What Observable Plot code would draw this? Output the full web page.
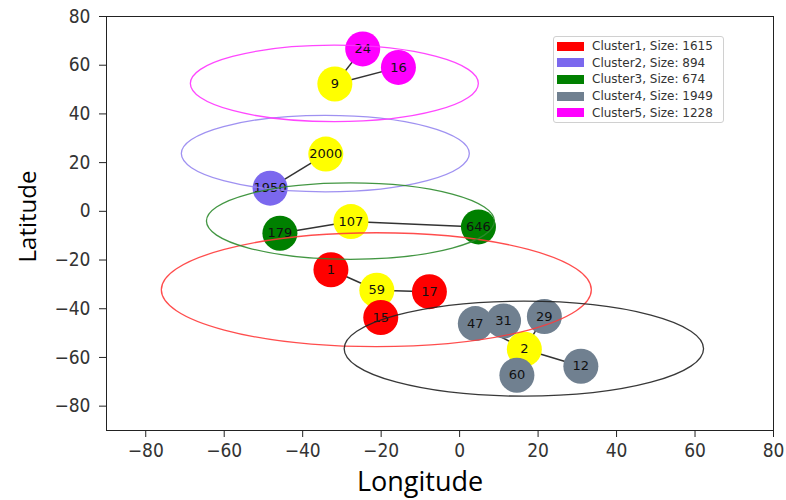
<!DOCTYPE html>
<html>
<head>
<meta charset="utf-8">
<script src="https://cdn.jsdelivr.net/npm/d3@7"></script>
<script src="https://cdn.jsdelivr.net/npm/@observablehq/plot@0.6"></script>
<style>
  html, body { margin: 0; padding: 0; background: #fff; }
  #wrap { position: relative; width: 786px; height: 500px; }
  #legend { position: absolute; left: 553px; top: 36px; width: 171px; height: 87px;
    border: 1px solid #d0d0d0; border-radius: 3px; background: rgba(255,255,255,0.85);
    font-family: "DejaVu Sans", sans-serif; font-size: 12px; color: #333; box-sizing: border-box; }
  .row { position: absolute; left: 3px; height: 14px; display: flex; align-items: center; }
  .sw { width: 27px; height: 9px; margin-right: 8px; }
</style>
</head>
<body>
<div id="wrap"><div id="legend"></div></div>
<script>
// ---- data ----
const nodeIds     = ["9", "2000", "107", "59", "2", "24", "16", "1950", "179", "646", "1", "17", "15", "47", "31", "29", "12", "60"];
const nodeLon     = [-31.8, -34.1, -27.7, -21.1, 16.5, -24.7, -15.6, -48.3, -45.8, 4.8, -32.8, -7.7, -20.1, 4.0, 11.2, 21.6, 30.9, 14.6];
const nodeLat     = [52.3, 23.5, -4.2, -32.4, -56.6, 66.7, 59.1, 9.5, -9.0, -6.4, -24.0, -33.0, -43.6, -46.1, -45.0, -43.2, -63.6, -67.3];
const nodeCluster = ["Cluster5", "Cluster2", "Cluster3", "Cluster1", "Cluster4", "Cluster5", "Cluster5", "Cluster2", "Cluster3", "Cluster3", "Cluster1", "Cluster1", "Cluster1", "Cluster4", "Cluster4", "Cluster4", "Cluster4", "Cluster4"];
const nodeIsHub   = [true, true, true, true, true, false, false, false, false, false, false, false, false, false, false, false, false, false];

const edgeFrom = ["24", "9", "2000", "179", "107", "1", "59", "2", "2", "2", "2", "59"];
const edgeTo   = ["9", "16", "1950", "107", "646", "59", "17", "47", "29", "12", "60", "15"];

const clusterNames = ["Cluster1", "Cluster2", "Cluster3", "Cluster4", "Cluster5"];
const clusterSizes = [1615, 894, 674, 1949, 1228];
const clusterHub   = ["59", "2000", "107", "2", "9"];
const clusterRadLon = [54.8, 36.7, 36.7, 45.8, 36.7];
const clusterRadLat = [23.4, 15.7, 15.7, 19.5, 15.7];

const xTicks = [-80, -60, -40, -20, 0, 20, 40, 60, 80];
const yTicks = [-80, -60, -40, -20, 0, 20, 40, 60, 80];

// ---- styles ----
const nodeColors    = ["#ff0000", "#7b68ee", "#008000", "#708090", "#ff00ff"];
const ellipseColors = ["#ff3a3a", "#9585f0", "#2e8b2e", "#222222", "#ff33ff"];
const hubColor = "#ffff00";
const tickFont = "'DejaVu Sans Condensed', 'Liberation Sans Narrow', 'DejaVu Sans', sans-serif";

// ---- tables ----
const nodes = nodeIds.map((id, i) => ({id, lon: nodeLon[i], lat: nodeLat[i], cluster: nodeCluster[i], hub: nodeIsHub[i]}));
const byId = new Map(nodes.map(d => [d.id, d]));
const edges = edgeFrom.map((f, i) => ({a: byId.get(f), b: byId.get(edgeTo[i])}));
const clusters = clusterNames.map((name, i) => {
  const h = byId.get(clusterHub[i]);
  return {name, size: clusterSizes[i], lon: h.lon, lat: h.lat, rlon: clusterRadLon[i], rlat: clusterRadLat[i], color: ellipseColors[i]};
});
const colorOf = new Map(clusterNames.map((n, i) => [n, nodeColors[i]]));
const fmt = d => d < 0 ? "\u2212" + Math.abs(d) : String(d);

const plot = Plot.plot({
  width: 786,
  height: 500,
  marginLeft: 106,
  marginRight: 13,
  marginTop: 16,
  marginBottom: 70,
  x: {domain: [-90, 80]},
  y: {domain: [-90, 80]},
  style: {fontFamily: tickFont, fontSize: "19px", color: "#333", background: "transparent"},
  marks: [
    Plot.link(edges, {x1: d => d.a.lon, y1: d => d.a.lat, x2: d => d.b.lon, y2: d => d.b.lat, stroke: "#333", strokeWidth: 1.5}),
    Plot.dot(nodes, {x: "lon", y: "lat", r: 17.5, fill: d => d.hub ? hubColor : colorOf.get(d.cluster), stroke: "none"}),
    Plot.text(nodes, {x: "lon", y: "lat", text: "id", fontSize: 13, fill: "#111", fontFamily: "DejaVu Sans, sans-serif"}),
    Plot.dot(clusters, {
      x: "lon", y: "lat",
      render: (index, scales, values, dims, ctx) => {
        const g = d3.create("svg:g").attr("fill", "none");
        for (const i of index) {
          const c = clusters[i];
          const cx = scales.x(c.lon), cy = scales.y(c.lat);
          const rx = Math.abs(scales.x(c.lon + c.rlon) - cx);
          const ry = Math.abs(scales.y(c.lat + c.rlat) - cy);
          g.append("ellipse").attr("cx", cx).attr("cy", cy).attr("rx", rx).attr("ry", ry)
            .attr("stroke", c.color).attr("stroke-width", 1.3).attr("stroke-opacity", 0.9);
        }
        return g.node();
      }
    }),
    Plot.frame({stroke: "#222", strokeWidth: 1}),
    Plot.axisX({ticks: xTicks, tickFormat: fmt, tickSize: 7, tickPadding: 6, label: null, stroke: "#222"}),
    Plot.axisY({ticks: yTicks, tickFormat: fmt, tickSize: 7, tickPadding: 9, label: null, stroke: "#222"}),
    Plot.text(["Longitude"], {frameAnchor: "bottom", dx: -20, dy: 60, fontSize: 27, fontFamily: "Open Sans, sans-serif", fill: "#000"}),
    Plot.text(["Latitude"], {frameAnchor: "left", textAnchor: "middle", dx: -78, dy: -7, rotate: -90, fontSize: 24, fontFamily: "Open Sans, sans-serif", fill: "#000"})
  ]
});
document.getElementById("wrap").prepend(plot);

const legend = document.getElementById("legend");
clusters.forEach((c, i) => {
  const row = document.createElement("div");
  row.className = "row";
  row.style.top = (2 + i * 16.7) + "px";
  const sw = document.createElement("div");
  sw.className = "sw";
  sw.style.background = nodeColors[i];
  const t = document.createElement("span");
  t.textContent = `${c.name}, Size: ${c.size}`;
  row.appendChild(sw); row.appendChild(t);
  legend.appendChild(row);
});
</script>
</body>
</html>
